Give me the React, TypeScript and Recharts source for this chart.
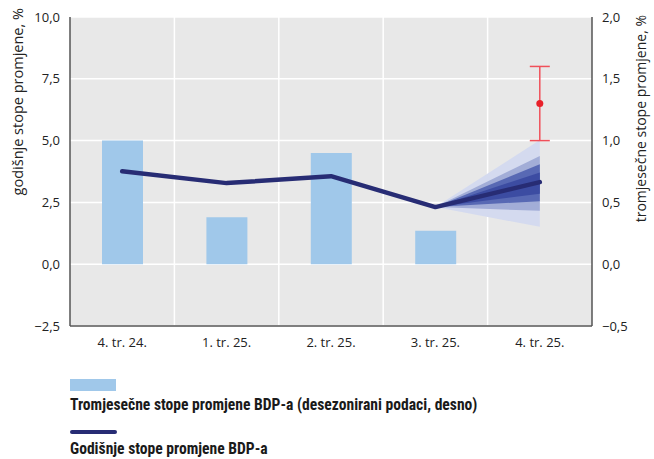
import { ComposedChart, Bar, Line, Area, XAxis, YAxis, CartesianGrid, ErrorBar } from 'recharts';

const categories = ['4. tr. 24.', '1. tr. 25.', '2. tr. 25.', '3. tr. 25.', '4. tr. 25.'];
// quarterly GDP growth, right axis
const quarterly = [1.0, 0.38, 0.9, 0.27, null];
// annual GDP growth, left axis
const annual = [3.76, 3.28, 3.56, 2.31, 3.32];
// fan bands around the annual projection, left axis
const fanOuter = [null, null, null, [2.31, 2.31], [1.51, 5.02]];
const fanWide = [null, null, null, [2.31, 2.31], [2.16, 4.38]];
const fanMid = [null, null, null, [2.31, 2.31], [2.55, 4.04]];
const fanInner = [null, null, null, [2.31, 2.31], [2.85, 3.71]];
// quarterly projection with range, right axis
const projQuarterly = [null, null, null, null, 1.3];
const projError = [null, null, null, null, 0.3];

const leftTicks = [-2.5, 0, 2.5, 5, 7.5, 10];
const rightTicks = [-0.5, 0, 0.5, 1, 1.5, 2];

const data = categories.map((name, i) => ({
  name,
  quarterly: quarterly[i],
  annual: annual[i],
  fanOuter: fanOuter[i],
  fanWide: fanWide[i],
  fanMid: fanMid[i],
  fanInner: fanInner[i],
  proj: projQuarterly[i],
  projErr: projError[i],
}));

const fmt = (v: number) => (v < 0 ? '\u2212' : '') + Math.abs(v).toFixed(1).replace('.', ',');

const tickFont = { fontSize: 13, fill: '#222', fontFamily: 'Open Sans, sans-serif' };
const labelFont = 'Open Sans, sans-serif';
const legendFont = '"Liberation Sans Narrow", "Roboto Condensed", Roboto, sans-serif';

export default function App() {
  return (
    <div style={{ position: 'absolute', left: 0, top: 0, width: 654, height: 459, background: '#fff' }}>
      <ComposedChart width={654} height={360} data={data} margin={{ top: 17, right: 0, left: 0, bottom: 0 }}>
        <CartesianGrid
          yAxisId="left"
          fill="#e8e8e8"
          stroke="#ffffff"
          strokeWidth={1.5}
          verticalCoordinatesGenerator={({ offset }: any) =>
            [1, 2, 3, 4].map(i => offset.left + (offset.width * i) / 5)
          }
        />
        <XAxis
          dataKey="name"
          axisLine={{ stroke: '#555', strokeWidth: 1.5 }}
          tickLine={false}
          tickSize={0}
          tickMargin={12}
          height={34}
          tick={tickFont}
        />
        <YAxis
          yAxisId="left"
          domain={[-2.5, 10]}
          ticks={leftTicks}
          tickFormatter={fmt}
          width={70}
          axisLine={{ stroke: '#555', strokeWidth: 1.5 }}
          tickLine={false}
          tickSize={0}
          tickMargin={10}
          tick={tickFont}
          label={{
            content: () => (
              <text x={17} y={8} transform="rotate(-90 17 8)" textAnchor="end" dominantBaseline="central"
                fontSize={14.5} fill="#222" fontFamily={labelFont}>
                godišnje stope promjene, %
              </text>
            ),
          }}
        />
        <YAxis
          yAxisId="right"
          orientation="right"
          domain={[-0.5, 2]}
          ticks={rightTicks}
          tickFormatter={fmt}
          width={62}
          axisLine={{ stroke: '#555', strokeWidth: 1.5 }}
          tickLine={false}
          tickSize={0}
          tickMargin={10}
          tick={tickFont}
          label={{
            content: () => (
              <text x={640} y={15} transform="rotate(-90 640 15)" textAnchor="end" dominantBaseline="central"
                fontSize={14} fill="#222" fontFamily={labelFont}>
                tromjesečne stope promjene, %
              </text>
            ),
          }}
        />
        <Bar yAxisId="right" dataKey="quarterly" fill="#a0c8ea" barSize={41} isAnimationActive={false} />
        <Area yAxisId="left" dataKey="fanOuter" type="linear" fill="#d4daef" fillOpacity={1} stroke="none" isAnimationActive={false} />
        <Area yAxisId="left" dataKey="fanWide" type="linear" fill="#a2add7" fillOpacity={1} stroke="none" isAnimationActive={false} />
        <Area yAxisId="left" dataKey="fanMid" type="linear" fill="#5869b4" fillOpacity={1} stroke="none" isAnimationActive={false} />
        <Area yAxisId="left" dataKey="fanInner" type="linear" fill="#3c4ca2" fillOpacity={1} stroke="none" isAnimationActive={false} />
        <Line yAxisId="left" dataKey="annual" type="linear" stroke="#272c74" strokeWidth={4.5} dot={false}
          strokeLinejoin="round" strokeLinecap="round" isAnimationActive={false} />
        <Line yAxisId="right" dataKey="proj" stroke="none" isAnimationActive={false}
          dot={{ r: 3.5, fill: '#e8202a', stroke: 'none' }}>
          <ErrorBar dataKey="projErr" direction="y" width={10} stroke="#f0505a" strokeWidth={1.5} />
        </Line>
      </ComposedChart>
      <div style={{ position: 'absolute', left: 70, top: 379, width: 46, height: 12, background: '#a0c8ea' }} />
      <div style={{ position: 'absolute', left: 70, top: 396, fontFamily: legendFont, fontWeight: 700, fontSize: 15.6, color: '#1a1a1a', whiteSpace: 'nowrap' }}>
        Tromjesečne stope promjene BDP-a (desezonirani podaci, desno)
      </div>
      <div style={{ position: 'absolute', left: 70, top: 430, width: 47, height: 4, borderRadius: 2, background: '#272c74' }} />
      <div style={{ position: 'absolute', left: 70, top: 440, fontFamily: legendFont, fontWeight: 700, fontSize: 15.6, color: '#1a1a1a', whiteSpace: 'nowrap' }}>
        Godišnje stope promjene BDP-a
      </div>
    </div>
  );
}
